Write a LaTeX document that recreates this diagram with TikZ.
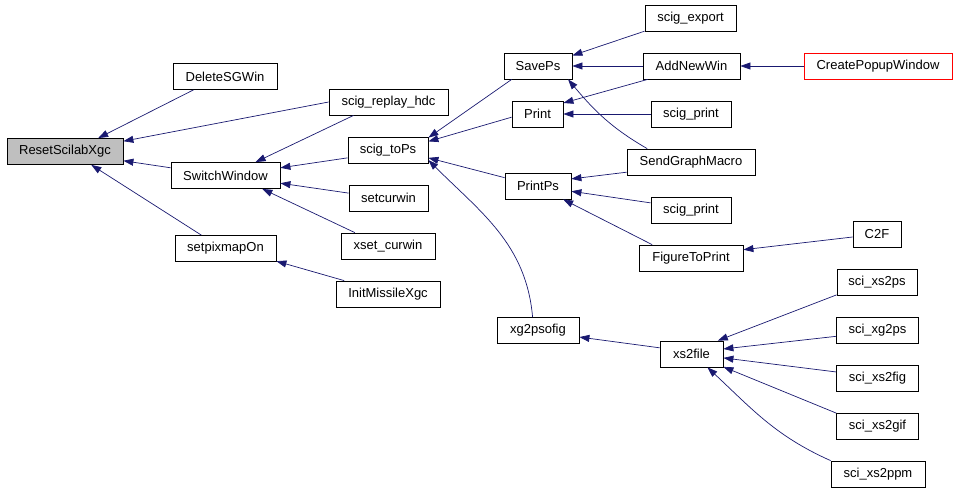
\documentclass[tikz,border=0pt]{standalone}
\usepackage{fontspec}
\setmainfont{Liberation Sans}
\usepackage{xcolor}
\usetikzlibrary{shapes,arrows.meta,positioning}
\definecolor{edgeblue}{RGB}{25,25,112}
\definecolor{rootgrey}{RGB}{191,191,191}
\definecolor{linkred}{RGB}{255,0,0}

\begin{document}
\begin{tikzpicture}[x=1pt, y=-1pt,
  fn/.style={draw, rectangle, line width=0.8pt, minimum height=26pt, inner sep=0pt, font=\fontsize{13}{15}\selectfont},
  call/.style={draw=edgeblue, line width=0.7pt, -{Triangle[length=10pt,width=7pt,fill=edgeblue]}}]
  \useasboundingbox (0,0) rectangle (957,490);

  % left part
  \node[fn, fill=rootgrey, minimum width=116pt] (resetxgc) at (65,151.5) {ResetScilabXgc};
  \node[fn, minimum width=104pt] (deletesg) at (225,76.5) {DeleteSGWin};
  \node[fn, minimum width=109pt] (switchwin) at (225.5,175.5) {SwitchWindow};
  \node[fn, minimum width=101pt] (setpixmap) at (225.5,248.5) {setpixmapOn};
  \node[fn, minimum width=119pt] (replayhdc) at (388.5,102) {scig\_replay\_hdc};
  \node[fn, minimum width=80pt] (tops) at (388,150) {scig\_toPs};
  \node[fn, minimum width=79pt] (setcurwin) at (388.5,198) {setcurwin};
  \node[fn, minimum width=94pt] (xsetcurwin) at (388,246) {xset\_curwin};
  \node[fn, minimum width=104pt] (initmissile) at (388,294) {InitMissileXgc};

  % middle part
  \node[fn, minimum width=68pt] (saveps) at (538,66) {SavePs};
  \node[fn, minimum width=51pt] (print) at (537.5,114) {Print};
  \node[fn, minimum width=66pt] (printps) at (538,186) {PrintPs};
  \node[fn, minimum width=82pt] (xgpsofig) at (538,330.5) {xg2psofig};
  \node[fn, minimum width=91pt] (export) at (690.5,18) {scig\_export};
  \node[fn, minimum width=97pt] (addnewwin) at (691.5,66) {AddNewWin};
  \node[fn, minimum width=80pt] (sprintA) at (691,114) {scig\_print};
  \node[fn, minimum width=128pt] (sendmacro) at (691,162) {SendGraphMacro};
  \node[fn, minimum width=80pt] (sprintB) at (691,210) {scig\_print};
  \node[fn, minimum width=104pt] (figprint) at (691,258) {FigureToPrint};
  \node[fn, minimum width=63pt] (xsfile) at (691.5,354) {xs2file};

  % right part
  \node[fn, draw=linkred, minimum width=148pt] (popup) at (878,66) {CreatePopupWindow};
  \node[fn, minimum width=48pt] (ctof) at (877,234) {C2F};
  \node[fn, minimum width=80pt] (xstops) at (877,282.5) {sci\_xs2ps};
  \node[fn, minimum width=82pt] (xgtops) at (877.5,330.5) {sci\_xg2ps};
  \node[fn, minimum width=82pt] (xstofig) at (877.5,378.5) {sci\_xs2fig};
  \node[fn, minimum width=82pt] (xstogif) at (877.5,426.5) {sci\_xs2gif};
  \node[fn, minimum width=94pt] (xstoppm) at (878,474) {sci\_xs2ppm};

  % callers -> callees
  \draw[call] (deletesg.203) -- (resetxgc.22);
  \draw[call] (replayhdc.west) -- (resetxgc.10);
  \draw[call] (switchwin.172) -- (resetxgc.351);
  \draw[call] (setpixmap.151) -- (resetxgc.333);
  \draw[call] (replayhdc.201) -- (switchwin.24);
  \draw[call] (tops.191) -- (switchwin.8);
  \draw[call] (setcurwin.173) -- (switchwin.352);
  \draw[call] (xsetcurwin.158) -- (switchwin.340);
  \draw[call] (initmissile.163) -- (setpixmap.346);

  \draw[call] (saveps.207) -- (tops.17);
  \draw[call] (print.187) -- (tops.12);
  \draw[call] (printps.166) -- (tops.349);
  \draw[call] (xgpsofig.112) to[out=95, in=-45] (tops.346);

  \draw[call] (export.196) -- (saveps.17);
  \draw[call] (addnewwin.west) -- (saveps.east);
  \draw[call] (sendmacro.163) to[out=150, in=-50] (saveps.336);
  \draw[call] (addnewwin.197) -- (print.23);
  \draw[call] (sprintA.west) -- (print.east);
  \draw[call] (sendmacro.189) -- (printps.12);
  \draw[call] (sprintB.170) -- (printps.351);
  \draw[call] (figprint.161) -- (printps.332);

  \draw[call] (popup.west) -- (addnewwin.east);
  \draw[call] (ctof.187) -- (figprint.9);
  \draw[call] (xsfile.169) -- (xgpsofig.351);

  \draw[call] (xstops.197) -- (xsfile.27);
  \draw[call] (xgtops.188) -- (xsfile.9);
  \draw[call] (xstofig.171) -- (xsfile.353);
  \draw[call] (xstogif.162) -- (xsfile.338);
  \draw[call] (xstoppm.north west) to[out=156, in=-43] (xsfile.320);
\end{tikzpicture}
\end{document}
